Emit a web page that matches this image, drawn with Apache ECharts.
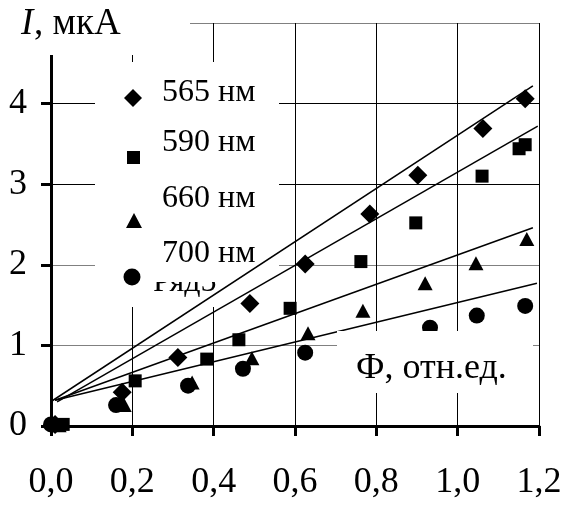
<!DOCTYPE html>
<html>
<head>
    <meta charset="utf-8">
    <title>I(Ф)</title>
    <script src="https://cdn.jsdelivr.net/npm/echarts@6/dist/echarts.min.js"></script>
</head>
<body style="margin:0;background:#fff;">
    <div id="main" style="width:565px;height:506px;"></div>
    <script type="text/javascript">
        // данные
        var x565 = [0.01, 0.175, 0.312, 0.489, 0.625, 0.784, 0.902, 1.062, 1.166];
        var y565 = [0.02, 0.42, 0.85, 1.52, 2.01, 2.63, 3.11, 3.69, 4.06];
        var x590 = [0.03, 0.207, 0.383, 0.462, 0.588, 0.762, 0.897, 1.06, 1.151, 1.166];
        var y590 = [0.02, 0.56, 0.83, 1.07, 1.46, 2.04, 2.52, 3.10, 3.44, 3.49];
        var x660 = [0.02, 0.18, 0.347, 0.494, 0.632, 0.767, 0.92, 1.045, 1.17];
        var y660 = [0.01, 0.26, 0.54, 0.84, 1.15, 1.43, 1.77, 2.02, 2.32];
        var x700 = [0.0, 0.16, 0.337, 0.472, 0.625, 0.777, 0.932, 1.047, 1.166];
        var y700 = [0.02, 0.26, 0.50, 0.71, 0.91, 1.06, 1.22, 1.37, 1.49];
        // линии тренда: [x0, y0, x1, y1]
        var trend565 = [-0.01, 0.27, 1.185, 4.22];
        var trend590 = [0.015, 0.30, 1.197, 3.72];
        var trend660 = [0.01, 0.32, 1.185, 2.46];
        var trend700 = [0.01, 0.32, 1.195, 1.77];
        var names = ['565 нм', '590 нм', '660 нм', '700 нм'];

        var font = 'Liberation Serif';

        function pairs(xs, ys) {
            var out = [];
            for (var i = 0; i < xs.length; i++) out.push([xs[i], ys[i]]);
            return out;
        }
        function trendSeries(t) {
            return {
                type: 'line', data: [[t[0], t[1]], [t[2], t[3]]],
                symbol: 'none', z: 3, silent: true,
                lineStyle: {color: '#000', width: 1.5}
            };
        }
        function scatter(xs, ys, sym, size) {
            return {
                type: 'scatter', data: pairs(xs, ys), symbol: sym, symbolSize: size,
                itemStyle: {color: '#000', opacity: 1}, z: 2
            };
        }
        function txt(x, y, s, size, z) {
            return {type: 'text', z: z, x: x, y: y,
                style: {text: s, font: size + 'px "Liberation Serif"', fill: '#000', verticalAlign: 'middle'}};
        }

        var myChart = echarts.init(document.getElementById('main'));
        var option = {
            animation: false,
            backgroundColor: '#fff',
            grid: {left: 51, right: 26, top: 23, bottom: 80, outerBoundsMode: 'none'},
            xAxis: {
                type: 'value', min: 0, max: 1.2, interval: 0.2,
                axisLine: {lineStyle: {color: '#000', width: 3}},
                axisTick: {show: true, length: 10, lineStyle: {color: '#000', width: 3}},
                axisLabel: {
                    margin: 39, color: '#000', fontFamily: font, fontSize: 36,
                    formatter: function (v) { return v.toFixed(1).replace('.', ','); }
                },
                splitLine: {show: true, lineStyle: {color: '#000', width: 1}}
            },
            yAxis: {
                type: 'value', min: 0, max: 5, interval: 1,
                axisLine: {show: true, lineStyle: {color: '#000', width: 3}},
                axisTick: {show: true, length: 10, lineStyle: {color: '#000', width: 3}},
                axisLabel: {
                    margin: 24, color: '#000', fontFamily: font, fontSize: 36,
                    formatter: function (v) { return v === 5 ? '' : String(v); }
                },
                splitLine: {show: true, lineStyle: {color: ['#000', '#808080', '#808080', '#000', '#000', '#808080'], width: 1}}
            },
            series: [
                trendSeries(trend565), trendSeries(trend590), trendSeries(trend660), trendSeries(trend700),
                scatter(x700, y700, 'circle', 16),
                scatter(x660, y660, 'triangle', [15, 14]),
                scatter(x590, y590, 'rect', 13),
                scatter(x565, y565, 'diamond', [19, 19])
            ],
            graphic: [
                // подпись оси Y
                {type: 'rect', z: 1, shape: {x: 0, y: 0, width: 190, height: 55}, style: {fill: '#fff'}},
                {type: 'text', z: 1, x: 21, y: 24, style: {text: 'I', font: 'italic 37px "Liberation Serif"', fill: '#000', verticalAlign: 'middle'}},
                txt(34, 24, ', мкА', 37, 1),
                // легенда
                {type: 'rect', z: 1, shape: {x: 95, y: 62, width: 184, height: 245}, style: {fill: '#fff'}},
                txt(153, 283, 'Ряд5', 32, 1),
                {type: 'rect', z: 1, shape: {x: 145, y: 230, width: 120, height: 52}, style: {fill: '#fff'}},
                {type: 'polygon', z: 1, shape: {points: [[133, 89], [142, 98], [133, 107], [124, 98]]}, style: {fill: '#000'}},
                {type: 'rect', z: 1, shape: {x: 127, y: 151, width: 13, height: 13}, style: {fill: '#000'}},
                {type: 'polygon', z: 1, shape: {points: [[134, 213], [142, 228], [126, 228]]}, style: {fill: '#000'}},
                {type: 'circle', z: 1, shape: {cx: 132, cy: 277, r: 8.5}, style: {fill: '#000'}},
                txt(162, 93, names[0], 32, 1),
                txt(162, 143, names[1], 32, 1),
                txt(162, 199, names[2], 32, 1),
                txt(162, 254, names[3], 32, 1),
                // подпись оси X
                {type: 'rect', z: 10, shape: {x: 337, y: 331, width: 196, height: 62}, style: {fill: '#fff'}},
                txt(356, 369, 'Ф, отн.ед.', 36, 10)
            ]
        };
        myChart.setOption(option);
    </script>
</body>
</html>
